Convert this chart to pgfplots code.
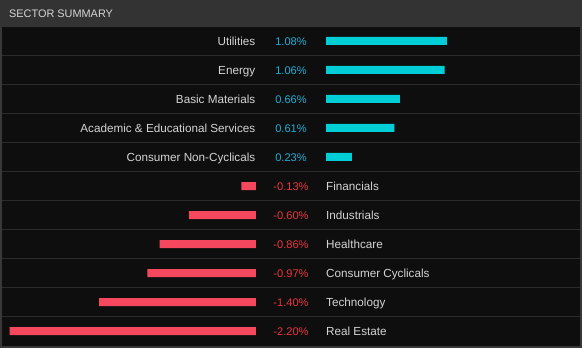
\documentclass[border=0pt]{standalone}
\usepackage{fontspec}
\setmainfont{Liberation Sans}
\usepackage{pgfplots}
\pgfplotsset{compat=1.18}
\usepackage{pgfplotstable}

\definecolor{frame}{HTML}{383838}
\definecolor{header}{HTML}{333333}
\definecolor{body}{HTML}{0E0E0E}
\definecolor{sep}{HTML}{2B2B2B}
\definecolor{cyanbar}{HTML}{00CED6}
\definecolor{cyantext}{HTML}{1EB0D6}
\definecolor{redbar}{HTML}{F5485F}
\definecolor{redtext}{HTML}{EC3440}
\definecolor{lbl}{HTML}{D4D4D4}

\pgfplotstableread[col sep=comma]{
row,name,val
0,Utilities,1.08
1,Energy,1.06
2,Basic Materials,0.66
3,Academic \& Educational Services,0.61
4,Consumer Non-Cyclicals,0.23
}\pos

\pgfplotstableread[col sep=comma]{
row,name,val
5,Financials,-0.13
6,Industrials,-0.60
7,Healthcare,-0.86
8,Consumer Cyclicals,-0.97
9,Technology,-1.40
10,Real Estate,-2.20
}\neg

\pgfplotsset{
  rowaxis/.style={
    at={(0pt,0pt)}, anchor=south west,
    scale only axis, width=582pt, height=348pt,
    hide axis, clip=false,
    ymin=-1.41379, ymax=10.58621, y dir=reverse,
  },
  namelbl/.style={draw=none, mark=none, nodes near coords, point meta=explicit symbolic,
    every node near coord/.append style={inner sep=0pt, font=\fontsize{11.7}{13}\selectfont, text=lbl, yshift=-4.3pt}},
  pctlbl/.style={draw=none, mark=none, nodes near coords={\pgfplotspointmeta\%}, point meta=explicit symbolic,
    every node near coord/.append style={inner sep=0pt, anchor=base, font=\fontsize{11.1}{13}\selectfont, yshift=-4.3pt}},
}

\begin{document}
\begin{tikzpicture}[x=1pt,y=1pt]
% panel background
\fill[frame] (0,0) rectangle (582,348);
\fill[body] (2,2) rectangle (580,321);
\fill[header] (0,321) rectangle (582,348);
\foreach \k in {0,...,9} {
  \draw[sep, line width=1.5pt] (2,{348-55.5-29*\k}) -- (580,{348-55.5-29*\k});
}
\node[anchor=base west, inner sep=0pt, text=lbl, font=\fontsize{10.9}{13}\selectfont] at (9,330) {SECTOR SUMMARY};

% positive rows: zero at x = 326 px
\begin{axis}[rowaxis, xmin=-2.91071, xmax=2.28571]
\addplot[xbar, bar shift=0pt, bar width=8pt, fill=cyanbar, draw=none] table[x=val, y=row] {\pos};
\addplot[namelbl, every node near coord/.append style={anchor=base east}] table[x expr=-0.6295, y=row, meta=name] {\pos};
\addplot[pctlbl, every node near coord/.append style={text=cyantext}] table[x expr=-0.3125, y=row, meta=val] {\pos};
\end{axis}

% negative rows: zero at x = 256 px
\begin{axis}[rowaxis, xmin=-2.28571, xmax=2.91071]
\addplot[xbar, bar shift=0pt, bar width=8pt, fill=redbar, draw=none] table[x=val, y=row] {\neg};
\addplot[namelbl, every node near coord/.append style={anchor=base west}] table[x expr=0.625, y=row, meta=name] {\neg};
\addplot[pctlbl, every node near coord/.append style={text=redtext}] table[x expr=0.3125, y=row, meta=val] {\neg};
\end{axis}
\end{tikzpicture}
\end{document}
